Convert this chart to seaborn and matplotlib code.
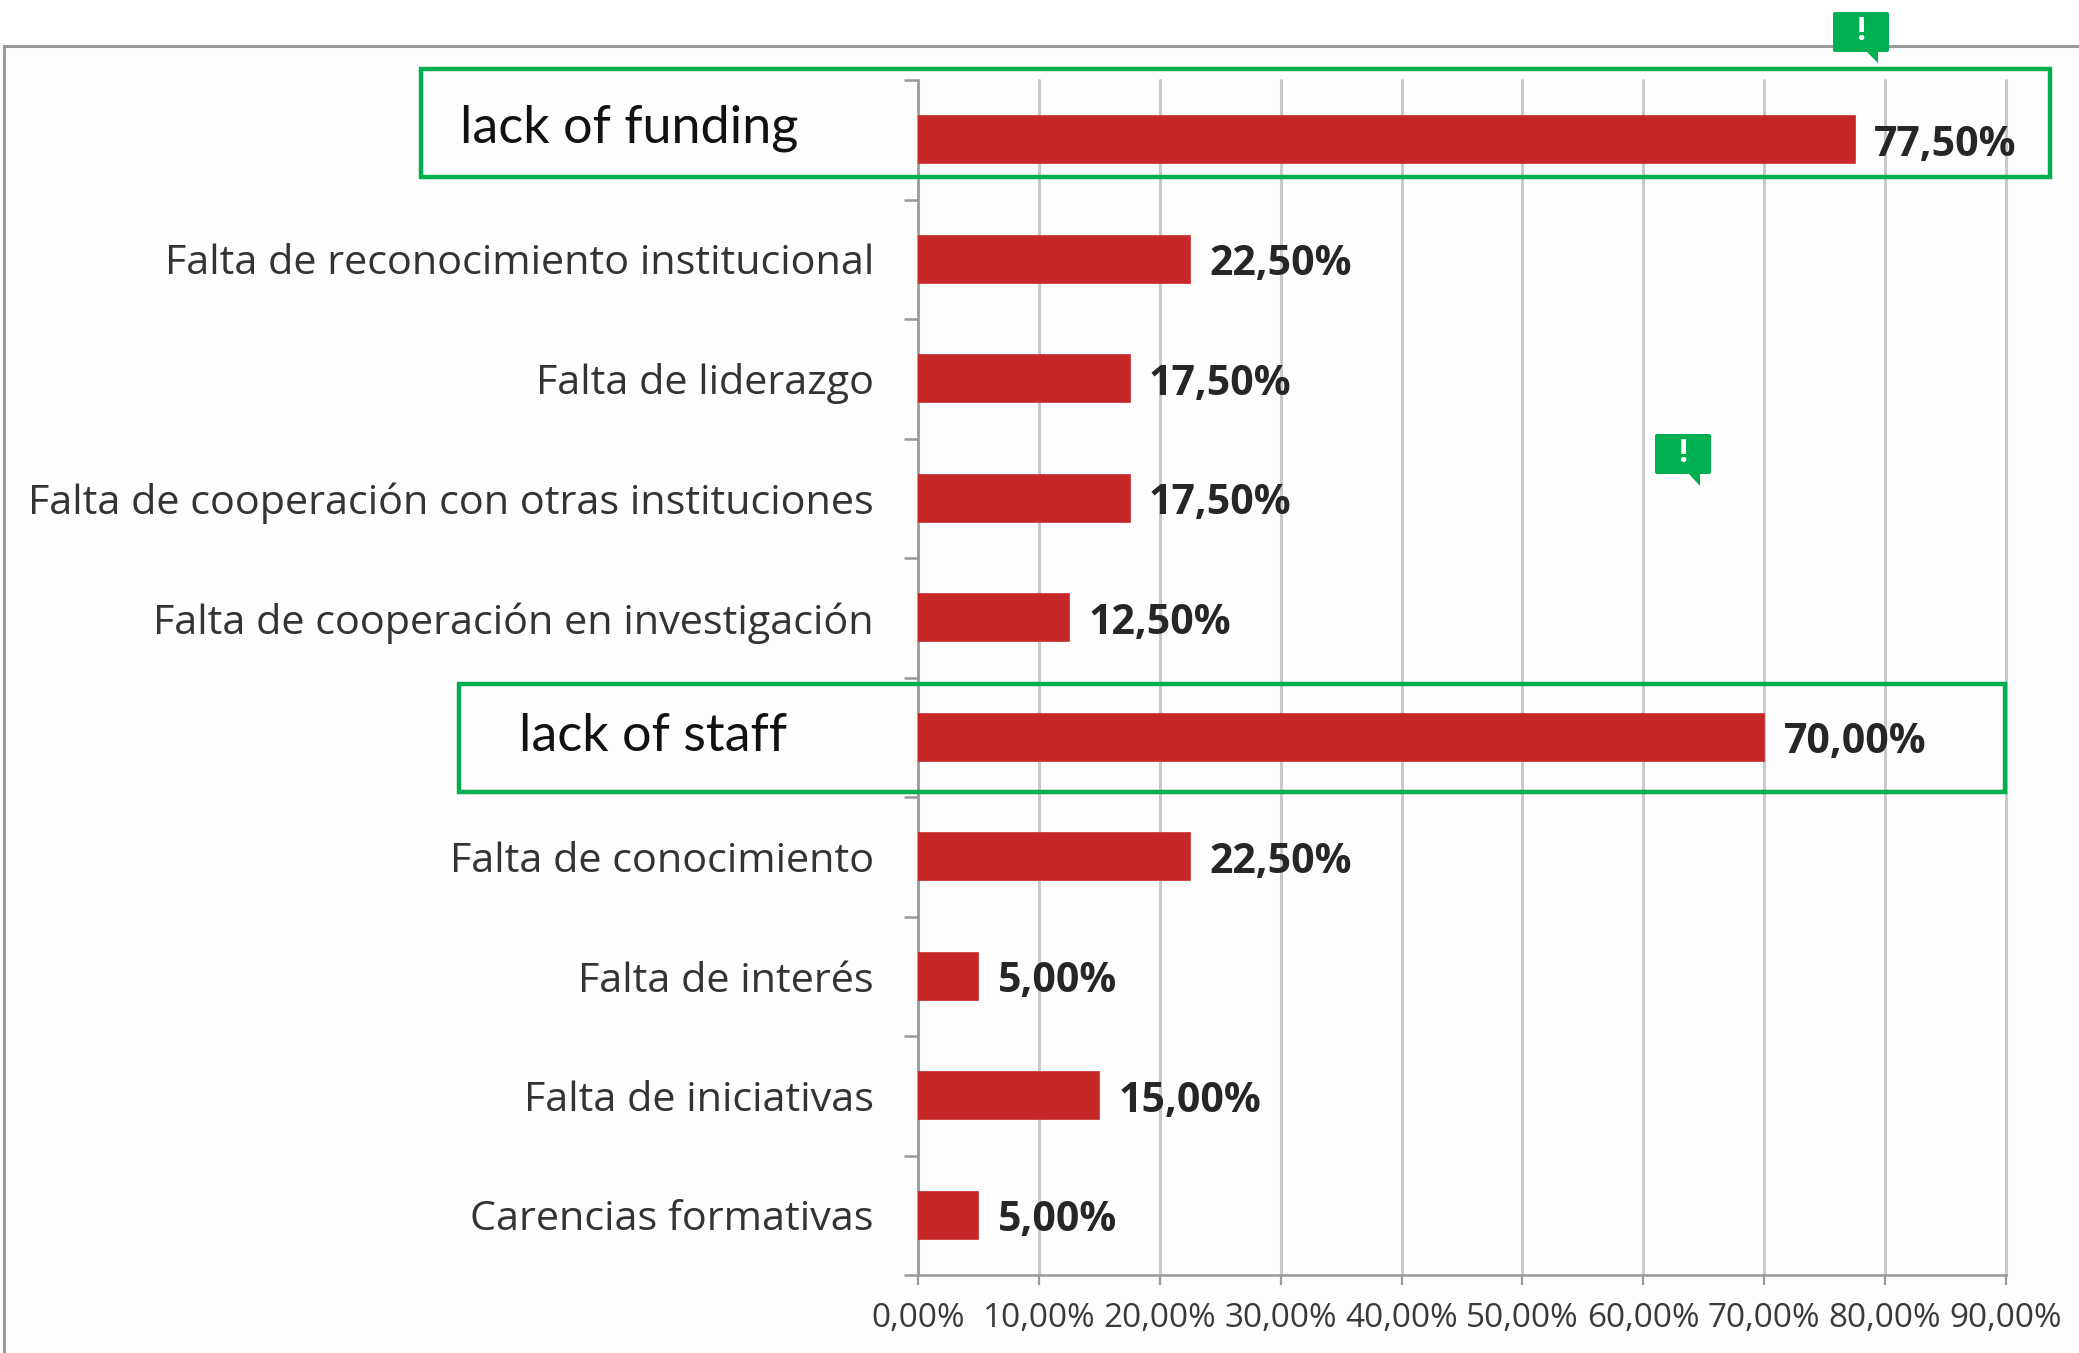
import matplotlib
matplotlib.use("Agg")
import matplotlib.pyplot as plt
from matplotlib.patches import Rectangle, FancyBboxPatch, Polygon
from matplotlib.transforms import ScaledTranslation
import seaborn as sns
import pandas as pd

categories = ["lack of funding", "Falta de reconocimiento institucional", "Falta de liderazgo",
              "Falta de cooperación con otras instituciones", "Falta de cooperación en investigación",
              "lack of staff", "Falta de conocimiento", "Falta de interés",
              "Falta de iniciativas", "Carencias formativas"]
values = [77.5, 22.5, 17.5, 17.5, 12.5, 70.0, 22.5, 5.0, 15.0, 5.0]
x_ticks = [0, 10, 20, 30, 40, 50, 60, 70, 80, 90]
highlighted = {"lack of funding": (86.4, 16), "lack of staff": (94, 5)}

W, H = 2079, 1353
sns.set_theme(style="white")
plt.rcParams["font.family"] = ["Open Sans", "DejaVu Sans"]
fig = plt.figure(figsize=(W / 100, H / 100), dpi=100, facecolor="white")

bg = fig.add_axes([0, 0, 1, 1], zorder=0)
bg.set_xlim(0, W); bg.set_ylim(H, 0); bg.axis("off")
bg.add_patch(Rectangle((4, 46), W, H, fc="#fdfdfd", ec="#9a9a9a", lw=2.2))

L, R, T, B = 918, 2006, 80, 1275
ax = fig.add_axes([L / W, 1 - B / H, (R - L) / W, (B - T) / H], zorder=1)
ax.patch.set_alpha(0)
df = pd.DataFrame({"cat": categories, "val": values})
sns.barplot(data=df, x="val", y="cat", orient="h", color="#c62828", saturation=1,
            width=0.39, edgecolor="#c62828", linewidth=1.2, ax=ax, zorder=3)
ax.set_xlim(0, 90); ax.set_ylim(9.5, -0.5)
ax.set_xlabel(""); ax.set_ylabel("")
ax.set_xticks(x_ticks)
ax.set_xticklabels([f"{v:.2f}%".replace(".", ",") for v in x_ticks], fontsize=24, color="#3a3a3a")
ax.xaxis.grid(True, color="#c9c9c9", lw=2.2, zorder=0)
for line in ax.get_xgridlines():
    line.set_clip_on(False)
ax.yaxis.grid(False)
ax.tick_params(axis="x", length=7.5, width=1.6, color="#9a9a9a", pad=12, bottom=True)
ax.set_yticks([i - 0.5 for i in range(len(categories) + 1)], minor=True)
ax.tick_params(axis="y", which="minor", length=10, width=1.8, color="#9a9a9a", left=True)
ax.tick_params(axis="y", which="major", length=0)
for tick, name in zip(ax.yaxis.get_major_ticks(), categories):
    lab = tick.label1
    if name in highlighted:
        pad, up = highlighted[name]
        tick.set_pad(pad)
        lab.set_fontfamily("Lato"); lab.set_fontsize(37.5); lab.set_color("#111111")
        lab.set_transform(lab.get_transform() + ScaledTranslation(0, up / 100, fig.dpi_scale_trans))
    else:
        tick.set_pad(31.7)
        lab.set_fontsize(29.8); lab.set_color("#333333")
for s in ("top", "right"):
    ax.spines[s].set_visible(False)
for s in ("left", "bottom"):
    ax.spines[s].set_color("#9a9a9a"); ax.spines[s].set_linewidth(1.8)

texts = ax.bar_label(ax.containers[0], labels=[f"{v:.2f}%".replace(".", ",") for v in values],
                     padding=14, fontsize=29.5, fontweight="bold", color="#262626", zorder=4)
for t in texts:
    t.xyann = (t.xyann[0], t.xyann[1] - 4)

ov = fig.add_axes([0, 0, 1, 1], zorder=2)
ov.set_xlim(0, W); ov.set_ylim(H, 0); ov.axis("off"); ov.patch.set_alpha(0)
green = "#00b050"
ov.add_patch(Rectangle((421, 69), 1629, 108, fc="none", ec=green, lw=3.2))
ov.add_patch(Rectangle((459, 684), 1546, 108, fc="none", ec=green, lw=3.2))
for x0, y0, tail in [(1833, 12, [(1867, 52), (1878, 63), (1878, 52)]),
                     (1655, 434, [(1689, 474), (1700, 486), (1700, 474)])]:
    ov.add_patch(FancyBboxPatch((x0 + 2, y0 + 2), 52, 36, boxstyle="round,pad=2",
                                fc=green, ec="none"))
    ov.add_patch(Polygon(tail, fc=green, ec="none"))
    ov.text(x0 + 28, y0 + 20, "!", color="white", fontsize=23, fontweight="bold",
            ha="center", va="center")

fig.savefig("out.png", dpi=100)
